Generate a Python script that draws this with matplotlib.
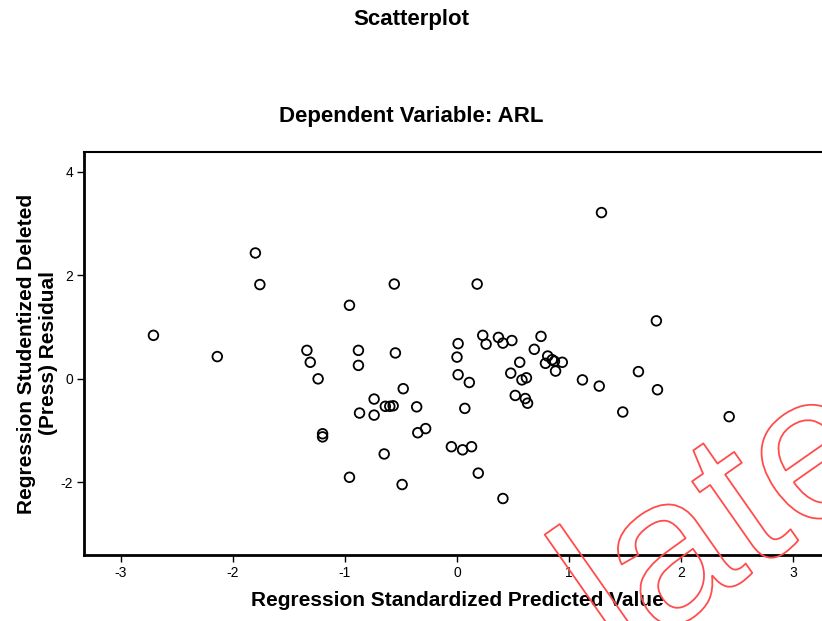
import matplotlib
matplotlib.use("Agg")
import matplotlib.pyplot as plt
import matplotlib.patheffects as pe

# regression standardized predicted value (x) vs studentized deleted residual (y)
pred = [1.29, -1.80, -1.76, -0.56, 0.18, -0.96, -2.71, -2.14, -1.34, -1.31,
        -1.24, -0.88, -0.88, -0.55, 0.01, 0.00, 0.01, 0.11, 0.23, 0.26,
        0.37, 0.41, 0.49, 0.75, 0.69, 1.78, 0.56, 0.81, 0.79, 0.87,
        0.94, 0.88, 0.85, 0.48, 0.58, 0.62, 1.12, 1.27, 1.62, 1.79,
        1.48, 2.43, 0.52, 0.61, 0.63, -0.48, -0.74, -0.74, -0.87, -0.64,
        -0.60, -0.57, -0.36, 0.07, -0.35, -0.28, -1.20, -1.20, -0.05, 0.05,
        0.13, -0.65, 0.19, -0.96, -0.49, 0.41]
resid = [3.21, 2.43, 1.82, 1.83, 1.83, 1.42, 0.84, 0.43, 0.55, 0.32,
         0.00, 0.55, 0.26, 0.50, 0.68, 0.42, 0.08, -0.07, 0.84, 0.67,
         0.80, 0.69, 0.74, 0.82, 0.57, 1.12, 0.32, 0.44, 0.30, 0.34,
         0.32, 0.15, 0.37, 0.11, -0.02, 0.02, -0.02, -0.14, 0.14, -0.21,
         -0.64, -0.73, -0.32, -0.38, -0.47, -0.19, -0.39, -0.70, -0.66, -0.53,
         -0.53, -0.52, -0.54, -0.57, -1.04, -0.96, -1.06, -1.12, -1.31, -1.37,
         -1.31, -1.45, -1.82, -1.90, -2.04, -2.31]

x_ticks = [-3, -2, -1, 0, 1, 2, 3]
y_ticks = [-2, 0, 2, 4]

plt.rcParams["font.family"] = ["Liberation Sans", "DejaVu Sans"]
plt.rcParams["axes.unicode_minus"] = False

fig = plt.figure(figsize=(8.22, 6.21), dpi=100)
ax = fig.add_axes([0.1022, 0.1063, 0.9075, 0.649])

ax.scatter(pred, resid, s=48, facecolors="none", edgecolors="black", linewidths=1.3, zorder=3)

ax.set_xlim(-3.33, 3.33)
ax.set_ylim(-3.40, 4.38)
ax.set_xticks(x_ticks)
ax.set_yticks(y_ticks)
ax.tick_params(direction="out", length=5, width=1, labelsize=10, colors="black", pad=3)
for side, s in ax.spines.items():
    s.set_linewidth(2.0 if side in ("left", "bottom") else 1.5)

ax.set_xlabel("Regression Standardized Predicted Value", fontsize=15, fontweight="bold", labelpad=8)
ax.set_ylabel("Regression Studentized Deleted\n(Press) Residual", fontsize=15,
              fontweight="bold", labelpad=2, linespacing=1.15)

fig.text(0.5, 0.969, "Scatterplot", ha="center", va="center", fontsize=16, fontweight="bold")
fig.text(0.5, 0.813, "Dependent Variable: ARL", ha="center", va="center", fontsize=16,
         fontweight="bold")

# red outlined watermark cut off at the lower right
fig.text(0.754, -0.073, "late", fontsize=150, rotation=35, rotation_mode="anchor",
         ha="left", va="baseline", color="none", zorder=10,
         path_effects=[pe.Stroke(linewidth=1.3, foreground="#ff4d4d")])

fig.savefig("out.png", dpi=100)
